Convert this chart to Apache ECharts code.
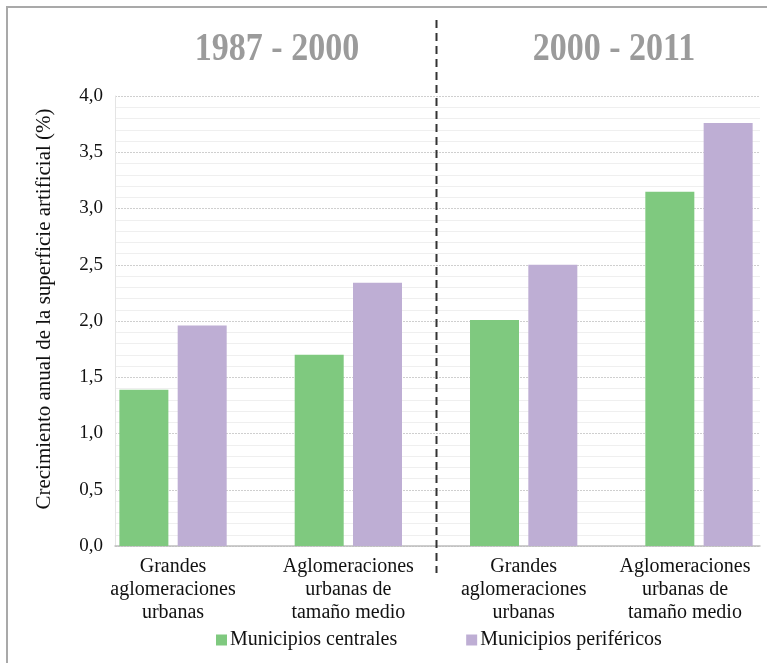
<!DOCTYPE html>
<html>
<head>
<meta charset="utf-8">
<script src="https://cdn.jsdelivr.net/npm/echarts@6/dist/echarts.min.js"></script>
<style>
  html, body { margin: 0; padding: 0; background: #ffffff; }
  #chart { width: 767px; height: 663px; }
</style>
</head>
<body>
<div id="chart"></div>
<script>
// Categories, periods and values
const categorias = [
  'Grandes\naglomeraciones\nurbanas',
  'Aglomeraciones\nurbanas de\ntamaño medio',
  'Grandes\naglomeraciones\nurbanas',
  'Aglomeraciones\nurbanas de\ntamaño medio'
];
const periodos = ['1987 - 2000', '2000 - 2011'];
const municipiosCentrales = [1.39, 1.70, 2.01, 3.15];
const municipiosPerifericos = [1.96, 2.34, 2.50, 3.76];
const yTicks = { min: 0, max: 4, interval: 0.5 };
const serieNombres = ['Municipios centrales', 'Municipios periféricos'];

const FONT = "'Liberation Serif', 'Times New Roman', serif";
const VERDE = '#7fc97f';
const MORADO = '#beaed4';

// category slots sit at 0..3 on a numeric axis, with extra room at both ends
const posiciones = categorias.map((_, i) => i);
const toPairs = vals => vals.map((v, i) => [posiciones[i], v]);

const chart = echarts.init(document.getElementById('chart'), null, { renderer: 'canvas' });

const option = {
  animation: false,
  backgroundColor: '#ffffff',
  textStyle: { fontFamily: FONT },
  legend: {
    data: serieNombres,
    left: 211, top: 625,
    itemWidth: 11, itemHeight: 11, itemGap: 69,
    icon: 'rect',
    textStyle: { fontFamily: FONT, fontSize: 20, color: '#111', padding: [0, 0, 0, -2] }
  },
  grid: { left: 115, top: 96, width: 645, height: 450, outerBoundsMode: 'none' },
  xAxis: {
    type: 'value', min: -0.331, max: 3.348,
    axisLine: { show: true, lineStyle: { color: '#bdbdbd', width: 1.5 } },
    axisTick: { show: false },
    splitLine: { show: false },
    axisLabel: {
      customValues: posiciones,
      hideOverlap: false,
      margin: 9, fontFamily: FONT, fontSize: 20, lineHeight: 23, color: '#111',
      formatter: v => {
        const txt = categorias[Math.round(v)] || '';
        if (Math.round(v) === 3) {
          return txt.split('\n').map(l => '{r|' + l + '}').join('\n');
        }
        return txt;
      },
      rich: {
        r: { fontFamily: FONT, fontSize: 20, lineHeight: 23, color: '#111', padding: [0, 28, 0, 0] }
      }
    }
  },
  yAxis: {
    type: 'value', min: yTicks.min, max: yTicks.max, interval: yTicks.interval,
    name: 'Crecimiento anual de la superficie artificial (%)',
    nameLocation: 'middle', nameGap: 60,
    nameTextStyle: { fontFamily: FONT, fontSize: 21, color: '#111', padding: [0, 0, 0, 24] },
    axisLine: { show: true, onZero: false, lineStyle: { color: '#e4e4e4', width: 1 } },
    axisTick: { show: false },
    axisLabel: {
      margin: 12, fontFamily: FONT, fontSize: 19, color: '#111',
      formatter: v => v.toFixed(1).replace('.', ',')
    },
    splitLine: { show: true, lineStyle: { color: '#cfcfcf', width: 1, type: [2, 1] } },
    minorTick: { show: false, splitNumber: 5 },
    minorSplitLine: { show: true, lineStyle: { color: '#efefef', width: 1 } }
  },
  series: [
    {
      name: serieNombres[0], type: 'bar',
      data: toPairs(municipiosCentrales), barWidth: 49, barGap: '19%',
      itemStyle: { color: VERDE }
    },
    {
      name: serieNombres[1], type: 'bar',
      data: toPairs(municipiosPerifericos), barWidth: 49, barGap: '19%',
      itemStyle: { color: MORADO }
    }
  ]
};

chart.setOption(option);

// Outer frame, period headings and the dashed divider between the two periods
const xDiv = Math.round(chart.convertToPixel({ xAxisIndex: 0 }, 1.5)) + 0.5;
const headingStyle = {
  fill: '#9b9b9b', font: "bold 34px 'Liberation Serif', 'Times New Roman', serif",
  textAlign: 'center', textVerticalAlign: 'middle'
};
chart.setOption({
  graphic: [
    {
      type: 'rect', silent: true, z: 100,
      shape: { x: 7, y: 7, width: 800, height: 700 },
      style: { fill: 'none', stroke: '#a9a9a9', lineWidth: 2 }
    },
    {
      type: 'text', silent: true, z: 100, x: 277, y: 50, scaleY: 1.18,
      style: Object.assign({ text: periodos[0] }, headingStyle)
    },
    {
      type: 'text', silent: true, z: 100, x: 614, y: 50, scaleY: 1.18,
      style: Object.assign({ text: periodos[1] }, headingStyle)
    },
    {
      type: 'line', silent: true, z: 100,
      shape: { x1: xDiv, y1: 20, x2: xDiv, y2: 573 },
      style: { stroke: '#333333', lineWidth: 2, lineDash: [8, 5] }
    }
  ]
});
</script>
</body>
</html>
